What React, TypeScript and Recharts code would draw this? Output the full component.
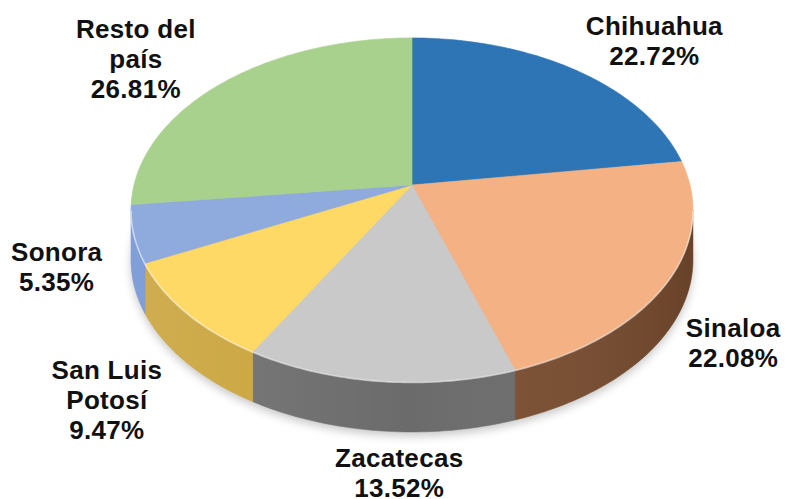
import { PieChart, Pie } from 'recharts';

// Participación por estado (%)
const states = ['Chihuahua', 'Sinaloa', 'Zacatecas', 'San Luis Potosí', 'Sonora', 'Resto del país'];
const shares = [22.72, 22.08, 13.52, 9.47, 5.35, 26.81];
const topColors = ['#2E75B6', '#F4B183', '#C9C9C9', '#FFD966', '#8FAADC', '#A9D18E'];
const sideColors = ['#1F4E79', '#7B4E30', '#6B6B6B', '#C9A238', '#6F91D2', '#6E9A52'];

const data = states.map((name, i) => ({ name, value: shares[i] }));

// perspective "3D" projection of the flat pie
const CX = 412;
const CY = 185;
const PX = 278;
const PY = 168.4;
const PK = 0.145;
const DEPTH = 50;
const EDGE = (Math.asin(PK) * 180) / Math.PI;
const FRONT_LO = -180 + EDGE;
const FRONT_HI = -EDGE;

const LABEL_RX = 370;
const LABEL_RY_TOP = 190;
const LABEL_RY_BOTTOM = 295;
const labelNudge: Record<string, [number, number]> = {
  Zacatecas: [24, -6],
  'San Luis Potosí': [-34, 14],
  Sinaloa: [6, 3],
};

type P = [number, number];

const pt = (cx: number, cy: number, deg: number, dy = 0): P => {
  const a = (deg * Math.PI) / 180;
  const u = Math.cos(a);
  const v = Math.sin(a);
  const d = 1 + PK * v;
  return [cx + (PX * u) / d, cy - (PY * v) / d + dy];
};

const arc = (cx: number, cy: number, from: number, to: number, dy = 0): P[] => {
  const n = Math.max(2, Math.ceil(Math.abs(from - to)));
  const pts: P[] = [];
  for (let i = 0; i <= n; i++) pts.push(pt(cx, cy, from + ((to - from) * i) / n, dy));
  return pts;
};

const toPath = (pts: P[]) => pts.map((p, i) => `${i ? 'L' : 'M'}${p[0].toFixed(2)},${p[1].toFixed(2)}`).join('');

const renderShadow = (p: any) => {
  const pts: P[] = [[p.cx, p.cy + DEPTH + 4], ...arc(p.cx, p.cy, p.startAngle, p.endAngle, DEPTH + 4)];
  return <path d={toPath(pts) + 'Z'} fill="#000" opacity={0.22} filter="url(#pieShadow)" />;
};

const renderWall = (p: any) => {
  const hi = Math.min(p.startAngle, FRONT_HI);
  const lo = Math.max(p.endAngle, FRONT_LO);
  if (hi <= lo) return <g />;
  const d = toPath([...arc(p.cx, p.cy, hi, lo), ...arc(p.cx, p.cy, lo, hi, DEPTH)]) + 'Z';
  return (
    <g>
      <path d={d} fill={sideColors[p.index]} stroke={sideColors[p.index]} strokeWidth={0.5} />
      <path d={d} fill="url(#wallShade)" />
    </g>
  );
};

const renderTop = (p: any) => {
  const pts: P[] = [[p.cx, p.cy], ...arc(p.cx, p.cy, p.startAngle, p.endAngle)];
  const hi = Math.min(p.startAngle, FRONT_HI);
  const lo = Math.max(p.endAngle, FRONT_LO);
  return (
    <g>
      <path d={toPath(pts) + 'Z'} fill={topColors[p.index]} stroke={topColors[p.index]} strokeWidth={0.6} />
      {hi > lo && (
        <path d={toPath(arc(p.cx, p.cy, hi, lo, 0.5))} fill="none" stroke="#fff" strokeOpacity={0.55} strokeWidth={1.6} />
      )}
    </g>
  );
};

const wrap = (s: string, max = 9) => {
  const lines: string[] = [];
  let cur = '';
  s.split(' ').forEach((w) => {
    if (cur && (cur + ' ' + w).length > max) {
      lines.push(cur);
      cur = w;
    } else cur = cur ? cur + ' ' + w : w;
  });
  if (cur) lines.push(cur);
  return lines;
};

const renderText = (p: any) => {
  const name: string = p.payload?.name ?? p.name;
  const value: number = p.payload?.value ?? p.value;
  const mid = (((p.startAngle + p.endAngle) / 2) * Math.PI) / 180;
  const s = Math.sin(mid);
  const [nx, ny] = labelNudge[name] ?? [0, 0];
  const x = p.cx + LABEL_RX * Math.cos(mid) + nx;
  const y = p.cy - (s > 0 ? LABEL_RY_TOP : LABEL_RY_BOTTOM) * s + ny;
  const lines = [...wrap(name), `${value.toFixed(2)}%`];
  const first = y - 15 * (lines.length - 1) + 9;
  return (
    <text
      x={x}
      y={first}
      textAnchor="middle"
      fontFamily="'Liberation Sans', Arial, sans-serif"
      fontWeight="bold"
      fontSize={26}
      letterSpacing={0.3}
      fill="#111"
    >
      {lines.map((l, i) => (
        <tspan key={i} x={x} y={first + i * 30}>
          {l}
        </tspan>
      ))}
    </text>
  );
};

const pieCommon = {
  data,
  dataKey: 'value',
  nameKey: 'name',
  cx: CX,
  cy: CY,
  outerRadius: 1,
  startAngle: 90,
  endAngle: -270,
  fill: 'none',
  stroke: 'none',
  labelLine: false,
  isAnimationActive: false,
  legendType: 'none' as const,
};

const App = () => (
  <div style={{ position: 'absolute', left: 0, top: 0, width: 788, height: 499, background: '#fff' }}>
    <PieChart width={788} height={499} margin={{ top: 0, right: 0, bottom: 0, left: 0 }}>
      <defs>
        <filter id="pieShadow" x="-20%" y="-20%" width="140%" height="140%">
          <feGaussianBlur stdDeviation="5" />
        </filter>
        <linearGradient id="wallShade" gradientUnits="userSpaceOnUse" x1={CX - PX} y1={0} x2={CX + PX} y2={0}>
          <stop offset="0" stopColor="#fff" stopOpacity={0.12} />
          <stop offset="0.5" stopColor="#fff" stopOpacity={0} />
          <stop offset="1" stopColor="#000" stopOpacity={0.15} />
        </linearGradient>
      </defs>
      <Pie {...pieCommon} label={renderShadow} />
      <Pie {...pieCommon} label={renderWall} />
      <Pie {...pieCommon} label={renderTop} />
      <Pie {...pieCommon} label={renderText} />
    </PieChart>
  </div>
);

export default App;
